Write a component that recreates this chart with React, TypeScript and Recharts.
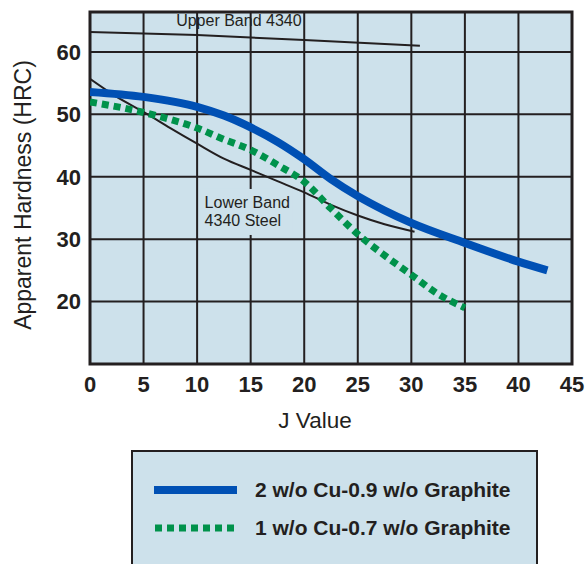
import { CartesianGrid, Line, LineChart, ReferenceArea, ReferenceDot, XAxis, YAxis } from "recharts";

const FONT = "'Liberation Sans', Arial, sans-serif";
const INK = "#231f20";
const BG = "#cde1eb";
const BLUE = "#0050b4";
const GREEN = "#00924b";

const jTicks = [0, 5, 10, 15, 20, 25, 30, 35, 40, 45];
const hTicks = [20, 30, 40, 50, 60];

const jBlue = [0, 5, 10, 12.5, 15, 17.5, 20, 22.5, 25, 27.5, 30, 35, 40, 42.7];
const hBlue = [53.6, 52.8, 51.2, 49.8, 47.9, 45.6, 42.8, 39.6, 36.9, 34.6, 32.6, 29.4, 26.4, 25.0];

const jGreen = [0, 5, 10, 12.5, 15, 17.5, 20, 22.5, 25, 27.5, 30, 32.5, 35];
const hGreen = [52.0, 50.3, 47.8, 46.0, 44.3, 41.9, 39.2, 34.9, 30.8, 27.4, 24.3, 21.2, 19.0];

const jLower = [0, 2.5, 5, 7.5, 10, 12.5, 15, 17.5, 20, 22.5, 25, 27.5, 30.3];
const hLower = [55.7, 52.8, 50.4, 47.8, 45.3, 42.9, 41.1, 39.3, 37.5, 35.5, 33.8, 32.4, 31.2];

const jUpper = [0, 10, 20, 30.8];
const hUpper = [63.2, 62.7, 61.9, 61.0];

const zip = (js: number[], hs: number[]) => js.map((j, i) => ({ j, h: hs[i] }));

const blueData = zip(jBlue, hBlue);
const greenData = zip(jGreen, hGreen);
const lowerData = zip(jLower, hLower);
const upperData = zip(jUpper, hUpper);

const UpperLabel = (props: any) => {
	const { x, y } = props.viewBox;
	return (
		<text x={x} y={y} textAnchor="middle" dominantBaseline="central" fontFamily={FONT} fontSize={16} fill={INK}>
			Upper Band 4340
		</text>
	);
};

const LowerLabel = (props: any) => {
	const { x, y } = props.viewBox;
	return (
		<g>
			<rect x={x - 4} y={y - 14} width={92} height={46} fill={BG} />
			<text x={x} y={y} dominantBaseline="central" fontFamily={FONT} fontSize={16} fill={INK}>
				Lower Band
			</text>
			<text x={x} y={y + 18} dominantBaseline="central" fontFamily={FONT} fontSize={16} fill={INK}>
				4340 Steel
			</text>
		</g>
	);
};

const XTitle = (props: any) => {
	const { x, y, width } = props.viewBox;
	return (
		<text x={x + width / 2 - 16} y={y + 56} textAnchor="middle" dominantBaseline="central" fontFamily={FONT} fontSize={22.5} fill={INK}>
			J Value
		</text>
	);
};

const YTitle = (props: any) => {
	const { y, height } = props.viewBox;
	const cx = 23;
	const cy = y + height / 2 + 7;
	return (
		<text x={cx} y={cy} transform={`rotate(-90, ${cx}, ${cy})`} textAnchor="middle" dominantBaseline="central" fontFamily={FONT} fontSize={23} fill={INK}>
			Apparent Hardness (HRC)
		</text>
	);
};

export default function App() {
	return (
		<div style={{ position: "absolute", left: 0, top: 0, width: 585, height: 564, overflow: "hidden", background: "#fff" }}>
			<LineChart width={585} height={564} margin={{ top: 12, right: 13, bottom: 0, left: 0 }}>
				<CartesianGrid fill={BG} fillOpacity={1} stroke={INK} strokeWidth={2} />
				<XAxis
					type="number"
					dataKey="j"
					domain={[0, 45]}
					ticks={jTicks}
					height={200}
					tickSize={0}
					tickMargin={12}
					axisLine={false}
					tick={{ fill: INK, fontSize: 22, fontWeight: 700, fontFamily: FONT }}
					label={{ content: XTitle }}
					allowDataOverflow
				/>
				<YAxis
					type="number"
					dataKey="h"
					domain={[10, 66.4]}
					ticks={hTicks}
					width={90}
					tickSize={0}
					tickMargin={9}
					axisLine={false}
					tick={{ fill: INK, fontSize: 22, fontWeight: 700, fontFamily: FONT }}
					label={{ content: YTitle }}
					allowDataOverflow
				/>
				<ReferenceArea x1={0} x2={45} y1={10} y2={66.4} fill="none" stroke={INK} strokeWidth={3} />
				<ReferenceDot x={10.7} y={35.8} r={0} stroke="none" label={{ content: LowerLabel }} />
				<ReferenceDot x={13.9} y={65.1} r={0} stroke="none" label={{ content: UpperLabel }} />
				<Line data={upperData} dataKey="h" type="linear" stroke={INK} strokeWidth={2} dot={false} isAnimationActive={false} />
				<Line data={lowerData} dataKey="h" type="monotone" stroke={INK} strokeWidth={2} dot={false} isAnimationActive={false} />
				<Line data={greenData} dataKey="h" type="monotone" stroke={GREEN} strokeWidth={7} strokeDasharray="7 5" dot={false} isAnimationActive={false} />
				<Line data={blueData} dataKey="h" type="monotone" stroke={BLUE} strokeWidth={8} dot={false} isAnimationActive={false} />
			</LineChart>
			<div
				style={{
					position: "absolute",
					left: 131,
					top: 450,
					width: 403,
					height: 200,
					border: `2px solid ${INK}`,
					background: BG,
					fontFamily: FONT,
					fontWeight: 700,
					fontSize: 21,
					color: INK,
				}}
			>
				<svg style={{ position: "absolute", left: 21, top: 22 }} width={86} height={60}>
					<line x1={0} x2={83} y1={16} y2={16} stroke={BLUE} strokeWidth={8} />
					<line x1={1} x2={83} y1={54} y2={54} stroke={GREEN} strokeWidth={7} strokeDasharray="7 5" />
				</svg>
				<div style={{ position: "absolute", left: 122, top: 25, whiteSpace: "nowrap", lineHeight: "26px" }}>2 w/o Cu-0.9 w/o Graphite</div>
				<div style={{ position: "absolute", left: 122, top: 63, whiteSpace: "nowrap", lineHeight: "26px" }}>1 w/o Cu-0.7 w/o Graphite</div>
			</div>
		</div>
	);
}
